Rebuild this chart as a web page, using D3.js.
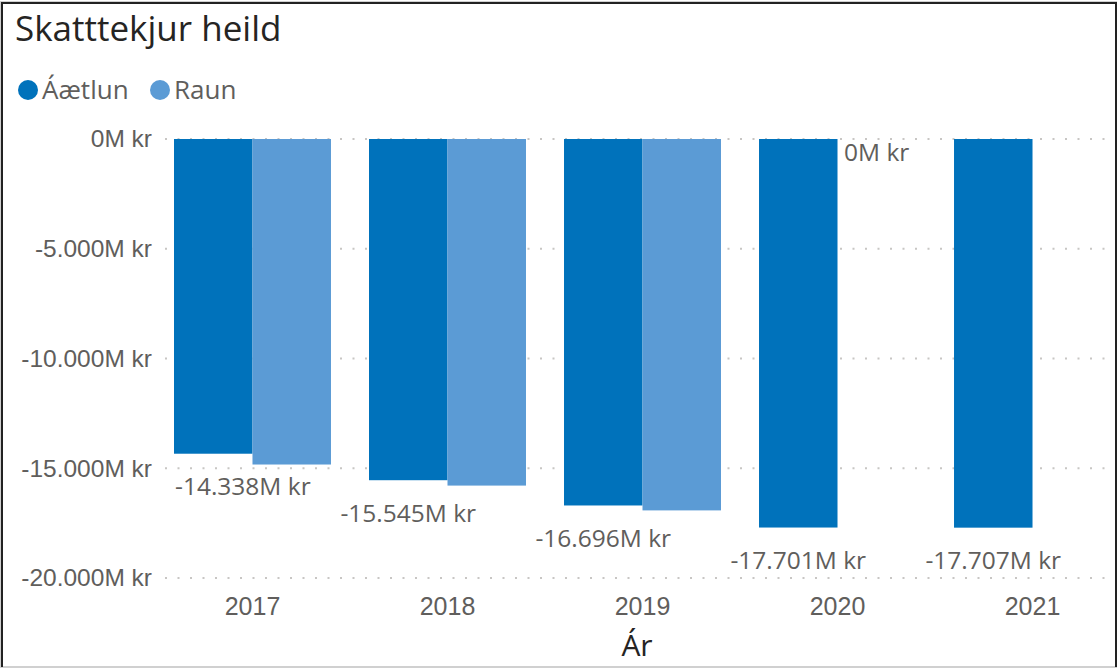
<!DOCTYPE html>
<html><head><meta charset="utf-8">
<script src="https://cdn.jsdelivr.net/npm/d3@7"></script>
<style>
html,body{margin:0;padding:0;background:#fff;}
svg{display:block;font-family:"Segoe UI","Open Sans","Noto Sans",sans-serif;}
</style></head>
<body><svg id="chart" width="1118" height="668"></svg>
<script>
const categories = ["2017","2018","2019","2020","2021"];
const seriesNames = ["Áætlun","Raun"];
const aetlun = [-14338, -15545, -16696, -17701, -17707];
const raun = [-14830, -15790, -16920, 0, null];
const yTicks = [0, -5000, -10000, -15000, -20000];
const title = "Skatttekjur heild";
const xTitle = "Ár";

const colors = {"Áætlun":"#0072BB","Raun":"#5B9BD5"};
const svg = d3.select("#chart");
const W = 1118, H = 668;

// border
svg.append("rect").attr("x",1).attr("y",2).attr("width",W-3).attr("height",H-3)
  .attr("fill","none").attr("stroke","#d0d0d0").attr("stroke-width",2);
svg.append("path").attr("d",`M2,${H-1} V3 H${W-2} V${H-1}`).attr("fill","none").attr("stroke","#222").attr("stroke-width",2);

const loc = d3.formatLocale({decimal:",",thousands:".",grouping:[3],currency:["",""],minus:"-"});
const fmt = v => loc.format(",.0f")(v) + "M kr";

const y = d3.scaleLinear().domain([-20000,0]).range([578,139]);
const x0 = d3.scaleBand().domain(categories).range([174,1111]).paddingInner(0.195).paddingOuter(0);
const x1 = d3.scaleBand().domain(seriesNames).range([0,x0.bandwidth()]);

// title
svg.append("text").attr("x",15).attr("y",41).attr("font-size",35).attr("fill","#252423").text(title);

// legend
const legX = [28,160];
seriesNames.forEach((s,i)=>{
  svg.append("circle").attr("cx",legX[i]).attr("cy",90).attr("r",10).attr("fill",colors[s]);
  svg.append("text").attr("x",legX[i]+14).attr("y",90).attr("dy","0.35em").attr("font-size",26).attr("fill","#605E5C").text(s);
});

// gridlines
const grid = svg.append("g");
yTicks.forEach(t=>{
  grid.append("line").attr("x1",165).attr("x2",1108).attr("y1",y(t)).attr("y2",y(t))
    .attr("stroke","#c8c6c4").attr("stroke-width",2).attr("stroke-dasharray","2,10.5");
});

// y axis
const yAxis = d3.axisLeft(y).tickValues(yTicks).tickFormat(fmt).tickSize(0).tickPadding(0);
const ya = svg.append("g").attr("transform","translate(152,0)").call(yAxis);
ya.select(".domain").remove();
ya.selectAll("text").attr("font-size",24.5).attr("fill","#605E5C").attr("font-family",null);

// x axis
const xAxis = d3.axisBottom(x0).tickSize(0).tickPadding(0);
const xa = svg.append("g").attr("transform","translate(0,606)").call(xAxis);
xa.select(".domain").remove();
xa.selectAll("text").attr("font-size",25).attr("fill","#605E5C").attr("dy","0.35em").attr("font-family",null);

svg.append("text").attr("x",637).attr("y",645).attr("dy","0.35em").attr("text-anchor","middle")
  .attr("font-size",30).attr("fill","#252423").text(xTitle);

// bars
const data = categories.map((c,i)=>({cat:c, vals:[{s:"Áætlun",v:aetlun[i]},{s:"Raun",v:raun[i]}]}));
const g = svg.append("g");
data.forEach(d=>{
  d.vals.forEach(e=>{
    if(e.v===null) return;
    g.append("rect").attr("x",x0(d.cat)+x1(e.s)).attr("width",x1.bandwidth())
      .attr("y",y(Math.max(0,e.v))).attr("height",Math.abs(y(e.v)-y(0)))
      .attr("fill",colors[e.s]);
  });
});

// data labels with collision avoidance
const labelOffset = {"Áætlun":33,"Raun":13};
const placed = [];
const lg = svg.append("g");
["Áætlun","Raun"].forEach(s=>{
  data.forEach(d=>{
    const e = d.vals.find(q=>q.s===s);
    if(e.v===null) return;
    let cx = x0(d.cat)+x1(s)+x1.bandwidth()/2;
    const cy = y(e.v)+labelOffset[s];
    const t = lg.append("text").attr("x",cx).attr("y",cy).attr("dy","0.35em").attr("text-anchor","middle")
      .attr("font-size",24.5).attr("fill","#605E5C").text(fmt(e.v));
    const w = t.node().getComputedTextLength();
    if(cx - w/2 < 175){ cx = 175 + w/2; t.attr("x",cx); }
    const box = {x0:cx-w/2,x1:cx+w/2,y0:cy-12,y1:cy+12};
    if(placed.some(b=>!(box.x1<b.x0||box.x0>b.x1||box.y1<b.y0||box.y0>b.y1))){ t.remove(); return; }
    placed.push(box);
  });
});
</script></body></html>
